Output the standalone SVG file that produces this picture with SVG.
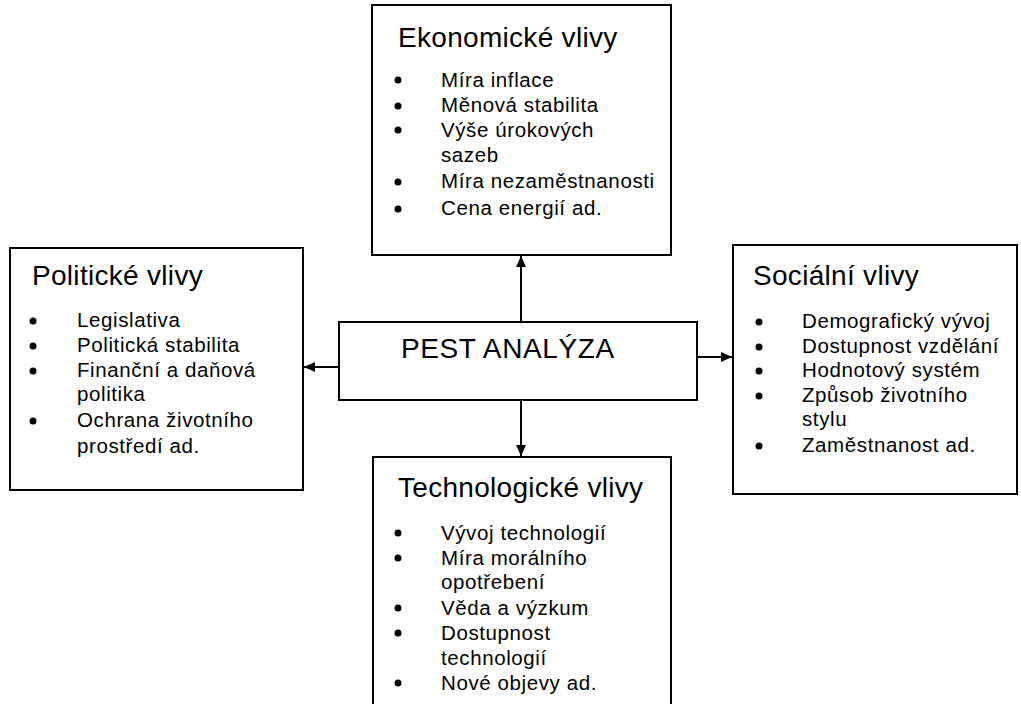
<svg xmlns="http://www.w3.org/2000/svg" width="1021" height="704" viewBox="0 0 1021 704">
<style>
.box{fill:#fff;stroke:#000;stroke-width:2}
.title{font-family:"Liberation Sans",Arial,sans-serif;font-size:28px;fill:#000;letter-spacing:0.3px}
.item{font-family:"Liberation Sans",Arial,sans-serif;font-size:20.5px;fill:#000;letter-spacing:0.6px}
.bul{fill:#000}
.conn{stroke:#000;stroke-width:2;fill:none;marker-end:url(#ah)}
</style>
<defs>
<marker id="ah" markerUnits="userSpaceOnUse" markerWidth="11" markerHeight="10" viewBox="0 0 11 10" refX="11" refY="5" orient="auto">
<path d="M0,0 L11,5 L0,10 Z" fill="#000"/>
</marker>
</defs>
<rect width="1021" height="704" fill="#fff"/>
<g id="ekonomicke">
<rect class="box" x="372" y="5" width="299" height="250"/>
<text class="title" x="398" y="47">Ekonomické vlivy</text>
<circle class="bul" cx="398" cy="80" r="3.5"/>
<circle class="bul" cx="398" cy="106" r="3.5"/>
<circle class="bul" cx="398" cy="130" r="3.5"/>
<circle class="bul" cx="398" cy="182" r="3.5"/>
<circle class="bul" cx="398" cy="209" r="3.5"/>
<text class="item" x="441" y="87">Míra inflace</text>
<text class="item" x="441" y="112">Měnová stabilita</text>
<text class="item" x="441" y="137">Výše úrokových</text>
<text class="item" x="441" y="162">sazeb</text>
<text class="item" x="441" y="188">Míra nezaměstnanosti</text>
<text class="item" x="441" y="215">Cena energií ad.</text>
</g>
<g id="politicke">
<rect class="box" x="10" y="248" width="293" height="242"/>
<text class="title" x="32" y="285">Politické vlivy</text>
<circle class="bul" cx="33" cy="321" r="3.5"/>
<circle class="bul" cx="33" cy="346" r="3.5"/>
<circle class="bul" cx="33" cy="371" r="3.5"/>
<circle class="bul" cx="33" cy="421" r="3.5"/>
<text class="item" x="77" y="327">Legislativa</text>
<text class="item" x="77" y="352">Politická stabilita</text>
<text class="item" x="77" y="377">Finanční a daňová</text>
<text class="item" x="77" y="401">politika</text>
<text class="item" x="77" y="427">Ochrana životního</text>
<text class="item" x="77" y="453">prostředí ad.</text>
</g>
<g id="socialni">
<rect class="box" x="733" y="245" width="284" height="249"/>
<text class="title" x="753" y="285">Sociální vlivy</text>
<circle class="bul" cx="759" cy="322" r="3.5"/>
<circle class="bul" cx="759" cy="347" r="3.5"/>
<circle class="bul" cx="759" cy="371" r="3.5"/>
<circle class="bul" cx="759" cy="396" r="3.5"/>
<circle class="bul" cx="759" cy="446" r="3.5"/>
<text class="item" x="802" y="328">Demografický vývoj</text>
<text class="item" x="802" y="353">Dostupnost vzdělání</text>
<text class="item" x="802" y="377">Hodnotový systém</text>
<text class="item" x="802" y="402">Způsob životního</text>
<text class="item" x="802" y="426">stylu</text>
<text class="item" x="802" y="452">Zaměstnanost ad.</text>
</g>
<g id="technologicke">
<rect class="box" x="373" y="457" width="298" height="260"/>
<text class="title" x="398" y="497">Technologické vlivy</text>
<circle class="bul" cx="398" cy="533" r="3.5"/>
<circle class="bul" cx="398" cy="558" r="3.5"/>
<circle class="bul" cx="398" cy="608" r="3.5"/>
<circle class="bul" cx="398" cy="633" r="3.5"/>
<circle class="bul" cx="398" cy="683" r="3.5"/>
<text class="item" x="441" y="540">Vývoj technologií</text>
<text class="item" x="441" y="565">Míra morálního</text>
<text class="item" x="441" y="589">opotřebení</text>
<text class="item" x="441" y="615">Věda a výzkum</text>
<text class="item" x="441" y="640">Dostupnost</text>
<text class="item" x="441" y="665">technologií</text>
<text class="item" x="441" y="690">Nové objevy ad.</text>
</g>
<g id="pest">
<rect class="box" x="339" y="322" width="358" height="78"/>
<text class="title" x="401" y="358" style="letter-spacing:0.6px">PEST ANALÝZA</text>
</g>
<g id="connectors">
<line class="conn" x1="521" y1="322" x2="521" y2="256"/>
<line class="conn" x1="521" y1="400" x2="521" y2="456"/>
<line class="conn" x1="697" y1="357" x2="732" y2="357"/>
<line class="conn" x1="339" y1="367" x2="304" y2="367"/>
</g>
</svg>
